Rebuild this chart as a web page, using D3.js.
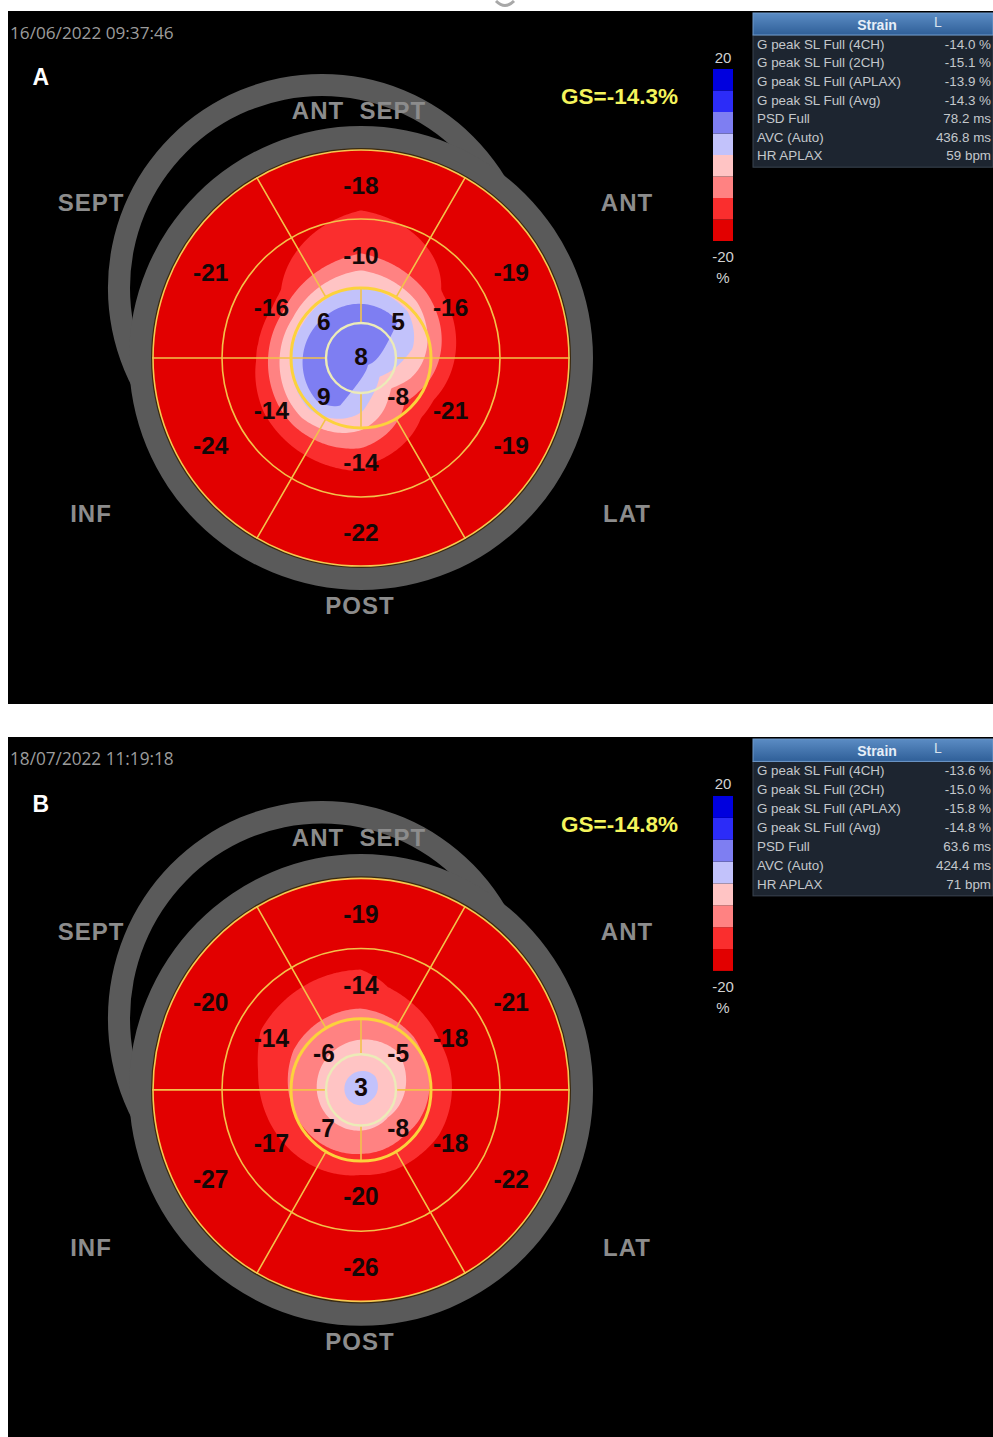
<!DOCTYPE html>
<html>
<head>
<meta charset="utf-8">
<script src="https://cdn.jsdelivr.net/npm/d3@7"></script>
<style>
  html, body { margin: 0; padding: 0; background: #ffffff; }
  svg { display: block; }
</style>
</head>
<body>
<div id="chart"></div>
<script>
// ---------------- data ----------------
const panelLetters = ["A", "B"];
const timestamps = ["16/06/2022 09:37:46", "18/07/2022 11:19:18"];
const globalStrain = [-14.3, -14.8];

// basal and mid rings: clockwise from the top (ant-sept, ant, lat, post, inf, sept)
const basalA = [-18, -19, -19, -22, -24, -21];
const midA = [-10, -16, -21, -14, -14, -16];
// apical ring: clockwise from the upper-right quadrant
const apicalA = [5, -8, 9, 6];
const apexA = 8;

const basalB = [-19, -21, -22, -26, -27, -20];
const midB = [-14, -18, -18, -20, -17, -14];
const apicalB = [-5, -8, -7, -6];
const apexB = 3;

const wallLabels = ["ANT  SEPT", "ANT", "LAT", "POST", "INF", "SEPT"];

const tableTitle = "Strain";
const tableLabels = [
  "G peak SL Full (4CH)", "G peak SL Full (2CH)", "G peak SL Full (APLAX)",
  "G peak SL Full (Avg)", "PSD Full", "AVC (Auto)", "HR APLAX"
];
const tableUnits = ["%", "%", "%", "%", "ms", "ms", "bpm"];
const tableValuesA = [-14.0, -15.1, -13.9, -14.3, 78.2, 436.8, 59];
const tableValuesB = [-13.6, -15.0, -15.8, -14.8, 63.6, 424.4, 71];

const strainExtent = [-20, 20];
const strainThresholds = [-15, -10, -5, 0, 5, 10, 15];
const scaleUnit = "%";

// ---------------- styling / layout ----------------
const strainPalette = ["#e20000", "#fa2e2e", "#ff8282", "#ffc4c4",
                       "#c2c2fb", "#7e7ef2", "#2c2cf8", "#0000de"];
const color = d3.scaleThreshold().domain(strainThresholds).range(strainPalette);

const W = 993, H = 1437;
const CX = 361, CY = 358;                 // bull's-eye centre (panel coords)
const R_APEX = 35, R_APICAL = 70, R_MID = 139, R_BASAL = 208;
const RING_IN = 209, RING_OUT = 232;       // grey frame ring around the map
const BACK_CX = 322, BACK_CY = 288;        // rear frame ring
const BACK_IN = 192, BACK_OUT = 214;
const LABEL_FONT = "'Liberation Sans', Arial, sans-serif";

const panels = [
  { letter: panelLetters[0], stamp: timestamps[0], gs: globalStrain[0],
    basal: basalA, mid: midA, apical: apicalA, apex: apexA, table: tableValuesA,
    top: 11, scaleY: 1, height: 693 },
  { letter: panelLetters[1], stamp: timestamps[1], gs: globalStrain[1],
    basal: basalB, mid: midB, apical: apicalB, apex: apexB, table: tableValuesB,
    top: 737, scaleY: 1.017, height: 712 }
];

const svg = d3.select("#chart").append("svg")
  .attr("width", W).attr("height", H)
  .attr("viewBox", `0 0 ${W} ${H}`);

svg.append("rect").attr("width", W).attr("height", H).attr("fill", "#ffffff");

// small grey mark above the first panel
svg.append("path")
  .attr("d", "M496,1 Q505,10 514,1")
  .attr("fill", "none").attr("stroke", "#a8a8a8").attr("stroke-width", 3);

// value of a ring at angle theta (deg, maths convention), linear between segment centres
function ringAt(vals, firstDeg, thetaDeg) {
  const n = vals.length, step = 360 / n;
  let t = ((firstDeg - thetaDeg) / step) % n;
  if (t < 0) t += n;
  const i = Math.floor(t), f = t - i;
  return vals[i] * (1 - f) + vals[(i + 1) % n] * f;
}

// strain interpolated radially between apex, apical, mid and basal segment centres
function strainAt(d, x, y) {
  const r = Math.hypot(x, y);
  const th = Math.atan2(-y, x) * 180 / Math.PI;
  const anchors = [
    [0, d.apex],
    [(R_APEX + R_APICAL) / 2, ringAt(d.apical, 45, th)],
    [(R_APICAL + R_MID) / 2, ringAt(d.mid, 90, th)],
    [(R_MID + R_BASAL) / 2, ringAt(d.basal, 90, th)]
  ];
  if (r >= anchors[3][0]) return anchors[3][1];
  for (let k = 0; k < 3; k++) {
    if (r <= anchors[k + 1][0]) {
      const f = (r - anchors[k][0]) / (anchors[k + 1][0] - anchors[k][0]);
      return anchors[k][1] * (1 - f) + anchors[k + 1][1] * f;
    }
  }
  return anchors[3][1];
}

const annulus = (inner, outer) => d3.arc().innerRadius(inner).outerRadius(outer)
  .startAngle(0).endAngle(2 * Math.PI)();

panels.forEach((d, pi) => {
  const g = svg.append("g")
    .attr("transform", `translate(0,${d.top}) scale(1,${d.scaleY}) translate(0,-11)`);

  // black display area
  g.append("rect").attr("x", 8).attr("y", 11).attr("width", W - 8).attr("height", d.height)
    .attr("fill", "#000000");

  // timestamp and panel letter
  g.append("text").attr("x", 10).attr("y", 38.5)
    .attr("font-family", "'Open Sans', sans-serif").attr("font-size", 17.2)
    .attr("fill", "#9c9c9c").text(d.stamp);
  g.append("text").attr("x", 32.5).attr("y", 84.5)
    .attr("font-family", LABEL_FONT).attr("font-weight", "bold").attr("font-size", 23)
    .attr("fill", "#ffffff").text(d.letter);

  // grey frame rings: rear ring first, front ring over it
  g.append("path").attr("d", annulus(BACK_IN, BACK_OUT))
    .attr("transform", `translate(${BACK_CX},${BACK_CY})`)
    .attr("fill", "#5a5a5a");
  g.append("path").attr("d", annulus(RING_IN, RING_OUT))
    .attr("transform", `translate(${CX},${CY})`)
    .attr("fill", "#5a5a5a");

  // strain field
  const clipId = `bull-clip-${pi}`;
  g.append("clipPath").attr("id", clipId)
    .append("circle").attr("cx", CX).attr("cy", CY).attr("r", R_BASAL);

  const step = 2;
  const N = Math.ceil(2 * R_BASAL / step) + 3;
  const origin = -R_BASAL - step;
  const values = new Float64Array(N * N);
  for (let j = 0; j < N; j++) {
    for (let i = 0; i < N; i++) {
      values[j * N + i] = strainAt(d, origin + (i + 0.5) * step, origin + (j + 0.5) * step);
    }
  }
  const contours = d3.contours().size([N, N]).thresholds(strainThresholds)(values);
  const projector = d3.geoPath(d3.geoIdentity().scale(step).translate([CX + origin, CY + origin]));

  const field = g.append("g").attr("clip-path", `url(#${clipId})`);
  field.append("circle").attr("cx", CX).attr("cy", CY).attr("r", R_BASAL + 2)
    .attr("fill", color(strainExtent[0]));
  field.selectAll("path.level").data(contours).join("path")
    .attr("class", "level")
    .attr("d", projector)
    .attr("fill", c => color(c.value));

  // dark seam between field and frame
  g.append("circle").attr("cx", CX).attr("cy", CY).attr("r", R_BASAL + 1)
    .attr("fill", "none").attr("stroke", "#3a2a10").attr("stroke-width", 2);

  // segment grid
  const grid = g.append("g").attr("transform", `translate(${CX},${CY})`)
    .attr("fill", "none").attr("stroke-linecap", "round");
  const n6 = d.basal.length, n4 = d.apical.length;
  d3.range(n6).forEach(k => {
    const a = (90 - 360 / n6 / 2 - k * 360 / n6) * Math.PI / 180;
    grid.append("line")
      .attr("x1", R_APICAL * Math.cos(a)).attr("y1", -R_APICAL * Math.sin(a))
      .attr("x2", R_BASAL * Math.cos(a)).attr("y2", -R_BASAL * Math.sin(a))
      .attr("stroke", "#f3c24a").attr("stroke-width", 1.6);
  });
  d3.range(n4).forEach(k => {
    const a = (45 - 360 / n4 / 2 - k * 360 / n4) * Math.PI / 180;
    grid.append("line")
      .attr("x1", R_APEX * Math.cos(a)).attr("y1", -R_APEX * Math.sin(a))
      .attr("x2", R_APICAL * Math.cos(a)).attr("y2", -R_APICAL * Math.sin(a))
      .attr("stroke", "#f3c24a").attr("stroke-width", 1.6);
  });
  grid.append("circle").attr("r", R_BASAL).attr("stroke", "#f6c850").attr("stroke-width", 1.6);
  grid.append("circle").attr("r", R_MID).attr("stroke", "#f3c24a").attr("stroke-width", 1.6);
  grid.append("circle").attr("r", R_APICAL).attr("stroke", "#fcd23c").attr("stroke-width", 3);
  grid.append("circle").attr("r", R_APEX).attr("stroke", "#ecebb8").attr("stroke-width", 2.4);

  // segment values
  const labels = g.append("g").attr("transform", `translate(${CX},${CY})`)
    .attr("font-family", LABEL_FONT).attr("font-weight", "bold").attr("font-size", 24.5)
    .attr("fill", "#140808").attr("text-anchor", "middle").attr("dominant-baseline", "central");
  const ringLabel = (vals, firstDeg, radius) => {
    vals.forEach((v, k) => {
      const a = (firstDeg - k * 360 / vals.length) * Math.PI / 180;
      labels.append("text")
        .attr("x", radius * Math.cos(a)).attr("y", -radius * Math.sin(a) + 1)
        .text(String(v));
    });
  };
  ringLabel(d.basal, 90, (R_MID + R_BASAL) / 2);
  ringLabel(d.mid, 90, (R_APICAL + R_MID) / 2 - 1);
  ringLabel(d.apical, 45, (R_APEX + R_APICAL) / 2);
  labels.append("text").attr("x", 0).attr("y", -2).text(String(d.apex));

  // wall names around the map
  const wallPlaces = [[-2, -248], [266, -156], [266, 155], [-1, 247], [-270, 155], [-270, -156]];
  g.append("g").attr("transform", `translate(${CX},${CY})`)
    .attr("font-family", LABEL_FONT).attr("font-weight", "bold").attr("font-size", 24)
    .attr("letter-spacing", 1)
    .attr("fill", "#8c8c8c").attr("text-anchor", "middle").attr("dominant-baseline", "central")
    .selectAll("text").data(wallLabels).join("text")
    .style("white-space", "pre")
    .attr("x", (t, k) => wallPlaces[k][0]).attr("y", (t, k) => wallPlaces[k][1])
    .text(t => t);

  // global strain
  g.append("text").attr("x", 561).attr("y", 96).attr("dominant-baseline", "central")
    .attr("font-family", LABEL_FONT).attr("font-weight", "bold").attr("font-size", 22.5)
    .attr("fill", "#f4f45c").text(`GS=${d.gs.toFixed(1)}${scaleUnit}`);

  // colour scale bar
  const barY = d3.scaleLinear().domain([strainExtent[1], strainExtent[0]]).range([69, 241]);
  const edges = [strainExtent[0], ...strainThresholds, strainExtent[1]];
  g.append("g").selectAll("rect").data(d3.range(edges.length - 1)).join("rect")
    .attr("x", 713).attr("width", 20)
    .attr("y", k => barY(edges[k + 1])).attr("height", k => barY(edges[k]) - barY(edges[k + 1]))
    .attr("fill", k => color(edges[k]));
  const barText = g.append("g").attr("font-family", LABEL_FONT).attr("font-size", 15)
    .attr("fill", "#d2d2d2").attr("text-anchor", "middle").attr("dominant-baseline", "central");
  barText.append("text").attr("x", 723).attr("y", barY(strainExtent[1]) - 12).text(String(strainExtent[1]));
  barText.append("text").attr("x", 723).attr("y", barY(strainExtent[0]) + 15).text(String(strainExtent[0]));
  barText.append("text").attr("x", 723).attr("y", barY(strainExtent[0]) + 36).text(scaleUnit);

  // measurement table
  const tx = 753, headTop = 13, headH = 22, rowH = 18.6;
  const gradId = `head-grad-${pi}`;
  const grad = g.append("linearGradient").attr("id", gradId)
    .attr("x1", 0).attr("y1", 0).attr("x2", 0).attr("y2", 1);
  grad.append("stop").attr("offset", 0).attr("stop-color", "#5b8cc4");
  grad.append("stop").attr("offset", 1).attr("stop-color", "#2f5f98");
  g.append("rect").attr("x", tx).attr("y", headTop + headH)
    .attr("width", W - tx).attr("height", rowH * tableLabels.length + 2)
    .attr("fill", "#1d2530").attr("stroke", "#3a4450").attr("stroke-width", 1);
  g.append("rect").attr("x", tx).attr("y", headTop).attr("width", W - tx).attr("height", headH)
    .attr("fill", `url(#${gradId})`).attr("stroke", "#6f9acb").attr("stroke-width", 1);
  g.append("text").attr("x", 877).attr("y", headTop + headH / 2 + 1)
    .attr("text-anchor", "middle").attr("dominant-baseline", "central")
    .attr("font-family", LABEL_FONT).attr("font-weight", "bold").attr("font-size", 14)
    .attr("fill", "#e6eef8").text(tableTitle);
  g.append("text").attr("x", 934).attr("y", headTop + headH / 2 - 2)
    .attr("dominant-baseline", "central")
    .attr("font-family", LABEL_FONT).attr("font-size", 14)
    .attr("fill", "#d8e2ee").text("L");
  const rows = g.append("g").attr("font-family", LABEL_FONT).attr("font-size", 13.4)
    .attr("fill", "#c4c8cc").attr("dominant-baseline", "central");
  tableLabels.forEach((lab, k) => {
    const y = headTop + headH + rowH * (k + 0.5);
    rows.append("text").attr("x", 757).attr("y", y).text(lab);
    const v = d.table[k];
    const unit = tableUnits[k];
    rows.append("text").attr("x", 991).attr("y", y).attr("text-anchor", "end")
      .text(`${unit === "bpm" ? v.toFixed(0) : v.toFixed(1)} ${unit}`);
  });
});
</script>
</body>
</html>
